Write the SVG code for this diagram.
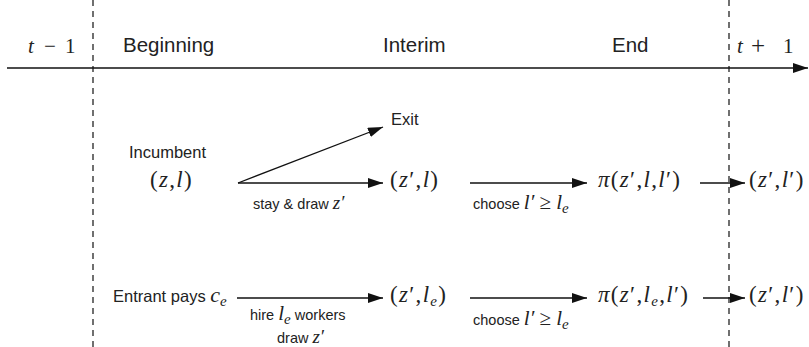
<svg xmlns="http://www.w3.org/2000/svg" width="809" height="347" viewBox="0 0 809 347">
<style>
.sans{font-family:"Liberation Sans",Arial,sans-serif;fill:#222}
.hdr{font-size:20.5px}
.lbl{font-size:16.5px}
.sm{font-size:14.5px}
.m{font-family:"Liberation Serif","Times New Roman",serif;font-size:23px;fill:#222;letter-spacing:1.3px}
.ms{font-family:"Liberation Serif","Times New Roman",serif;font-size:21px;fill:#222}
.i{font-style:italic}
.sub{font-size:15px;font-style:italic}
.ln{stroke:#111;stroke-width:1.3;fill:none}
.dash{stroke:#111;stroke-width:1.2;stroke-dasharray:6 5;fill:none}
</style>
<defs>
<marker id="ah" markerUnits="userSpaceOnUse" markerWidth="16" markerHeight="12" refX="15" refY="5" orient="auto">
<path d="M0,0 L15,5 L0,10 Z" fill="#111"/>
</marker>
</defs>
<rect width="809" height="347" fill="#fff"/>
<g id="timeline">
<line class="ln" x1="7" y1="68" x2="808" y2="68" marker-end="url(#ah)"/>
<line class="dash" x1="93" y1="0" x2="93" y2="347"/>
<line class="dash" x1="729" y1="0" x2="729" y2="347"/>
<text class="ms i" x="28" y="53">t</text>
<text class="ms" x="44" y="53">−</text>
<text class="ms" x="65" y="53">1</text>
<text class="sans hdr" x="123" y="52">Beginning</text>
<text class="sans hdr" x="383" y="52">Interim</text>
<text class="sans hdr" x="612" y="52">End</text>
<text class="ms i" x="737" y="53">t</text>
<text class="ms" x="751" y="54" style="font-size:25px">+</text>
<text class="ms" x="783" y="53">1</text>
</g>
<g id="connectors">
<line class="ln" x1="238" y1="183" x2="383" y2="127" marker-end="url(#ah)"/>
<line class="ln" x1="238" y1="183" x2="383" y2="183" marker-end="url(#ah)"/>
<line class="ln" x1="470" y1="183" x2="587" y2="183" marker-end="url(#ah)"/>
<line class="ln" x1="700" y1="183" x2="745" y2="183" marker-end="url(#ah)"/>
<line class="ln" x1="237" y1="298" x2="383" y2="298" marker-end="url(#ah)"/>
<line class="ln" x1="470" y1="298" x2="587" y2="298" marker-end="url(#ah)"/>
<line class="ln" x1="703" y1="298" x2="745" y2="298" marker-end="url(#ah)"/>
<text class="sans sm" x="253" y="209">stay &amp; draw <tspan class="ms i" style="font-size:19px">z′</tspan></text>
<text class="sans sm" x="473" y="209">choose <tspan class="ms i">l′</tspan><tspan class="ms"> ≥ </tspan><tspan class="ms i">l</tspan><tspan class="ms sub" dy="4">e</tspan></text>
<text class="sans sm" x="250" y="320">hire <tspan class="ms i">l</tspan><tspan class="ms sub" dy="4">e</tspan><tspan dy="-4"> workers</tspan></text>
<text class="sans sm" x="277" y="343">draw <tspan class="ms i" style="font-size:19px">z′</tspan></text>
<text class="sans sm" x="473" y="325">choose <tspan class="ms i">l′</tspan><tspan class="ms"> ≥ </tspan><tspan class="ms i">l</tspan><tspan class="ms sub" dy="4">e</tspan></text>
</g>
<g id="incumbent">
<text class="sans lbl" x="129" y="158">Incumbent</text>
<text class="m" x="150" y="187">(<tspan class="i">z</tspan>,<tspan class="i">l</tspan>)</text>
</g>
<g id="exit">
<text class="sans lbl" x="391" y="125">Exit</text>
</g>
<g id="interim1">
<text class="m" x="390" y="187">(<tspan class="i">z</tspan>′,<tspan class="i">l</tspan>)</text>
</g>
<g id="end1">
<text class="m" x="598" y="187"><tspan class="i">π</tspan>(<tspan class="i">z</tspan>′,<tspan class="i">l</tspan>,<tspan class="i">l</tspan>′)</text>
</g>
<g id="next1">
<text class="m" x="749" y="187">(<tspan class="i">z</tspan>′,<tspan class="i">l</tspan>′)</text>
</g>
<g id="entrant">
<text class="sans lbl" x="113" y="302">Entrant pays <tspan class="ms i" style="font-size:22px">c</tspan><tspan class="ms sub" dy="4">e</tspan></text>
</g>
<g id="interim2">
<text class="m" x="390" y="302">(<tspan class="i">z</tspan>′,<tspan class="i">l</tspan><tspan class="sub" dy="4">e</tspan><tspan dy="-4">)</tspan></text>
</g>
<g id="end2">
<text class="m" x="598" y="302"><tspan class="i">π</tspan>(<tspan class="i">z</tspan>′,<tspan class="i">l</tspan><tspan class="sub" dy="4">e</tspan><tspan dy="-4">,</tspan><tspan class="i">l</tspan>′)</text>
</g>
<g id="next2">
<text class="m" x="749" y="302">(<tspan class="i">z</tspan>′,<tspan class="i">l</tspan>′)</text>
</g>
</svg>
